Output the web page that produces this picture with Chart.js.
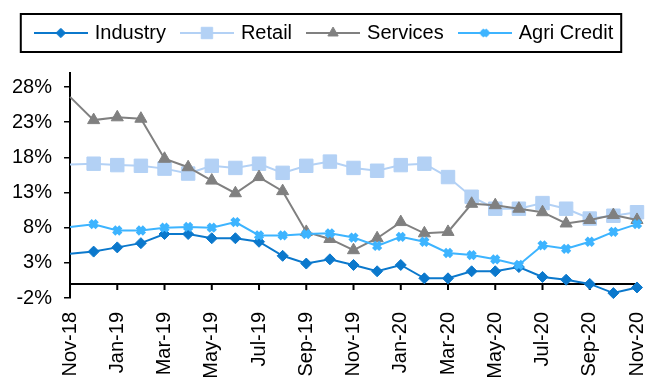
<!DOCTYPE html>
<html>
<head>
<meta charset="utf-8">
<script src="https://cdn.jsdelivr.net/npm/chart.js@4.4.1/dist/chart.umd.min.js"></script>
<style>
  html, body { margin: 0; padding: 0; background: #fff; }
  #wrap { width: 650px; height: 380px; }
</style>
</head>
<body>
<div id="wrap"><canvas id="credit"></canvas></div>
<script>
// monthly credit growth, y/y %
const months = ['Nov-18', 'Dec-18', 'Jan-19', 'Feb-19', 'Mar-19', 'Apr-19', 'May-19', 'Jun-19', 'Jul-19',
  'Aug-19', 'Sep-19', 'Oct-19', 'Nov-19', 'Dec-19', 'Jan-20', 'Feb-20', 'Mar-20', 'Apr-20', 'May-20',
  'Jun-20', 'Jul-20', 'Aug-20', 'Sep-20', 'Oct-20', 'Nov-20'];
const industry = [4.3, 4.6, 5.2, 5.8, 7.1, 7.1, 6.5, 6.5, 6.0, 4.0, 2.9, 3.5, 2.7, 1.8, 2.7, 0.8, 0.8, 1.8, 1.8, 2.4, 1.0, 0.6, 0.0, -1.3, -0.5];
const retail = [17.0, 17.1, 16.9, 16.8, 16.4, 15.7, 16.8, 16.5, 17.1, 15.8, 16.8, 17.4, 16.5, 16.1, 16.9, 17.1, 15.2, 12.4, 10.7, 10.7, 11.5, 10.7, 9.3, 9.7, 10.2];
const services = [26.6, 23.3, 23.7, 23.5, 17.8, 16.6, 14.7, 12.9, 15.2, 13.2, 7.4, 6.4, 4.8, 6.5, 8.8, 7.2, 7.4, 11.4, 11.2, 10.7, 10.2, 8.6, 9.1, 9.8, 9.1];
const agri = [8.1, 8.5, 7.6, 7.6, 8.0, 8.1, 8.0, 8.8, 6.9, 6.9, 7.1, 7.2, 6.6, 5.4, 6.7, 6.0, 4.4, 4.1, 3.5, 2.7, 5.5, 5.0, 6.0, 7.4, 8.5];
const yTicks = [-2, 3, 8, 13, 18, 23, 28];

Chart.defaults.font.family = "'Liberation Sans', Arial, sans-serif";
Chart.defaults.font.size = 20;
Chart.defaults.color = '#000';

const series = [
  { label: 'Industry', data: industry, color: '#0B78CC', style: 'rectRot', radius: 5.5, bw: 1 },
  { label: 'Retail', data: retail, color: '#B3D1F5', style: 'rect', radius: 9.5, bw: 1 },
  { label: 'Services', data: services, color: '#808080', style: 'triangle', radius: 7, bw: 1 },
  { label: 'Agri Credit', data: agri, color: '#3DB4FF', style: 'crossRot', radius: 5, bw: 4.5 }
];

// legend symbol: short line with the marker in the middle
function legendIcon(s) {
  const c = document.createElement('canvas');
  c.width = 54;
  c.height = 18;
  const ctx = c.getContext('2d');
  ctx.strokeStyle = s.color;
  ctx.fillStyle = s.color;
  ctx.lineWidth = 2;
  ctx.beginPath();
  ctx.moveTo(0, 9);
  ctx.lineTo(54, 9);
  ctx.stroke();
  ctx.lineWidth = s.bw;
  Chart.helpers.drawPoint(ctx, { pointStyle: s.style, radius: s.radius * 0.85, rotation: 0, borderWidth: s.bw * 0.8 }, 27, 9);
  return c;
}
const icons = series.map(legendIcon);

// box round the legend + extra gap under it
const legendFrame = {
  id: 'legendFrame',
  beforeInit(chart) {
    const fit = chart.legend.fit;
    chart.legend.fit = function () {
      fit.bind(chart.legend)();
      this.height += 20;
    };
  },
  afterDraw(chart) {
    const hb = chart.legend.legendHitBoxes;
    if (!hb || !hb.length) return;
    const last = hb[hb.length - 1];
    const mid = hb[0].top + hb[0].height / 2;
    const ctx = chart.ctx;
    ctx.save();
    ctx.strokeStyle = '#000';
    ctx.lineWidth = 2;
    ctx.strokeRect(hb[0].left - 16, mid - 19, last.left + last.width + 24 - hb[0].left, 38);
    ctx.restore();
  }
};

// x axis line crosses at 0
const zeroAxis = {
  id: 'zeroAxis',
  beforeDatasetsDraw(chart) {
    const { ctx, chartArea, scales: { x, y } } = chart;
    const y0 = y.getPixelForValue(0);
    ctx.save();
    ctx.strokeStyle = '#000';
    ctx.lineWidth = 2;
    ctx.beginPath();
    ctx.moveTo(chartArea.left, y0);
    ctx.lineTo(chartArea.right, y0);
    months.forEach((m, i) => {
      if (i % 2) return;
      const px = x.getPixelForValue(i);
      ctx.moveTo(px, y0);
      ctx.lineTo(px, y0 + 6);
    });
    ctx.stroke();
    ctx.restore();
  }
};

new Chart(document.getElementById('credit'), {
  type: 'line',
  data: {
    labels: months,
    datasets: series.map((s, i) => ({
      label: s.label,
      data: s.data,
      borderColor: s.color,
      backgroundColor: s.color,
      borderWidth: 2,
      pointStyle: s.style,
      pointRadius: ctx => ctx.dataIndex === 0 ? 0 : s.radius,
      pointBorderWidth: s.bw,
      pointHoverRadius: s.radius,
      order: series.length - i,
      clip: false
    }))
  },
  options: {
    responsive: true,
    maintainAspectRatio: false,
    animation: false,
    layout: { padding: { top: 6, left: 0, right: 0, bottom: 0 } },
    plugins: {
      tooltip: { enabled: false },
      legend: {
        labels: {
          usePointStyle: true,
          pointStyleWidth: 48,
          padding: 17,
          generateLabels: chart => chart.data.datasets.map((d, i) => ({
            text: d.label,
            pointStyle: icons[i],
            datasetIndex: i,
            fontColor: '#000',
            lineWidth: 0,
            strokeStyle: 'transparent',
            fillStyle: 'transparent'
          }))
        }
      }
    },
    scales: {
      x: {
        grid: { display: false, drawTicks: false },
        border: { display: false },
        ticks: {
          autoSkip: false,
          maxRotation: 90,
          minRotation: 90,
          padding: 14,
          callback: (v, i) => i % 2 === 0 ? months[i] : null
        },
        afterFit: scale => {
          scale.height = 82;
          scale.paddingLeft = 0;
          scale.paddingRight = 13;
        }
      },
      y: {
        min: -2,
        max: 30,
        afterBuildTicks: scale => { scale.ticks = yTicks.map(v => ({ value: v })); },
        grid: { drawOnChartArea: false, tickLength: 6, color: '#000', lineWidth: 1.5 },
        border: { color: '#000', width: 2 },
        ticks: { padding: 12, callback: v => v + '%' }
      }
    }
  },
  plugins: [legendFrame, zeroAxis]
});
</script>
</body>
</html>
